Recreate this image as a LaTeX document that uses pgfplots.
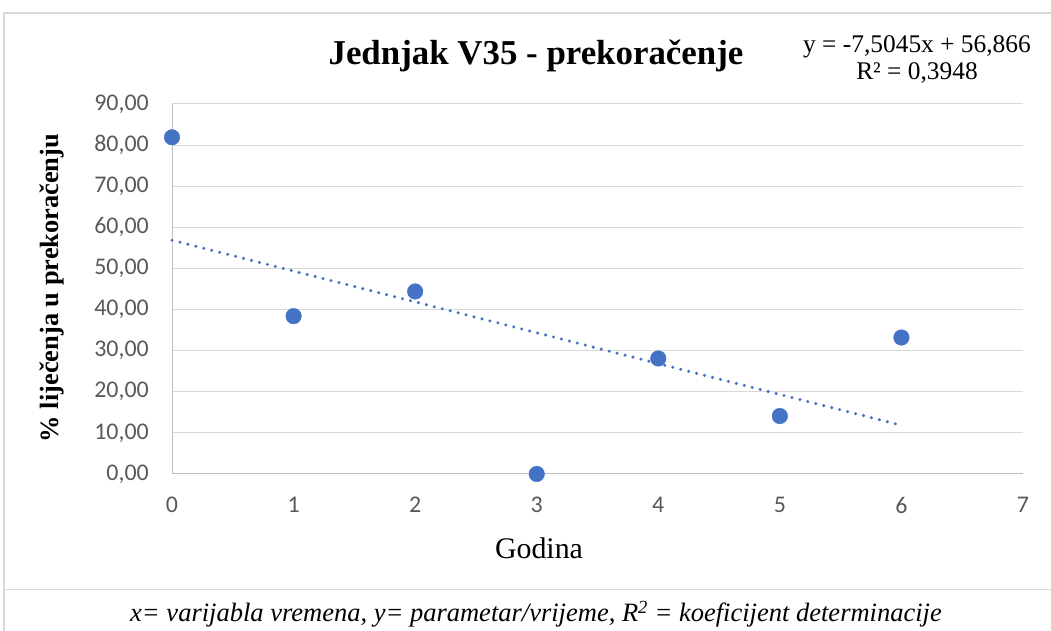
\documentclass[border=0pt]{standalone}
\usepackage{pgfplots}
\pgfplotsset{compat=1.18}
\usepackage{fontspec}
\setmainfont{Liberation Serif}
\newfontfamily\calibri{Carlito}
\definecolor{ptblue}{HTML}{4472C4}
\definecolor{gridc}{HTML}{D9D9D9}
\definecolor{axc}{HTML}{BFBFBF}
\definecolor{tickc}{HTML}{595959}
\begin{document}
\begin{tikzpicture}[x=1bp,y=1bp]
\useasboundingbox (0,0) rectangle (1051,631);
\fill[white] (0,0) rectangle (1051,631);
\draw[gridc, line width=1.5bp] (4,0) -- (4,618) -- (1051,618);
\draw[gridc, line width=1bp] (4,41) -- (1051,41);
\begin{axis}[
  at={(172bp,157bp)}, anchor=south west,
  scale only axis, width=851bp, height=370bp,
  xmin=0, xmax=7, ymin=0, ymax=90,
  xtick={0,1,...,7}, ytick={0,10,...,90},
  axis y line*=left, axis x line*=bottom,
  axis line style={draw=axc, line width=1bp, -},
  ymajorgrids, grid style={gridc, line width=1bp},
  major tick length=0pt,
  tick label style={font=\calibri\fontsize{24}{24}\selectfont, text=tickc, inner sep=0pt},
  /pgf/number format/assume math mode=true,
  yticklabel style={xshift=-23bp, /pgf/number format/.cd, fixed, fixed zerofill, precision=2, use comma},
  xticklabel style={yshift=-23bp, /pgf/number format/.cd, fixed, precision=0},
  clip=false,
]
\addplot[only marks, mark=*, mark size=7.8bp, mark options={draw=ptblue, fill=ptblue}]
  coordinates {(0,81.9) (1,38.4) (2,44.4) (3,0) (4,28.1) (5,14.1) (6,33.2)};
\addplot[ptblue, line width=3.4bp, line cap=round, dash pattern=on 0bp off 8.2bp]
  coordinates {(0,56.866) (6,11.839)};
\end{axis}
\node[anchor=base, font=\bfseries\fontsize{35}{35}\selectfont] at (536,566) {Jednjak V35 - prekoračenje};
\node[anchor=base, font=\fontsize{25.5}{25.5}\selectfont] at (917,578) {y = -7,5045x + 56,866};
\node[anchor=base, font=\fontsize{25.5}{25.5}\selectfont] at (917,551) {R² = 0,3948};
\node[rotate=90, anchor=center, font=\bfseries\fontsize{26.5}{26.5}\selectfont] at (52,343) {\% liječenja u prekoračenju};
\node[anchor=base, font=\fontsize{30}{30}\selectfont] at (539,72) {Godina};
\node[anchor=base, font=\itshape\fontsize{26.6}{26.6}\selectfont] at (536,9) {x= varijabla vremena, y= parametar/vrijeme, R\textsuperscript{2} = koeficijent determinacije};
\end{tikzpicture}
\end{document}
